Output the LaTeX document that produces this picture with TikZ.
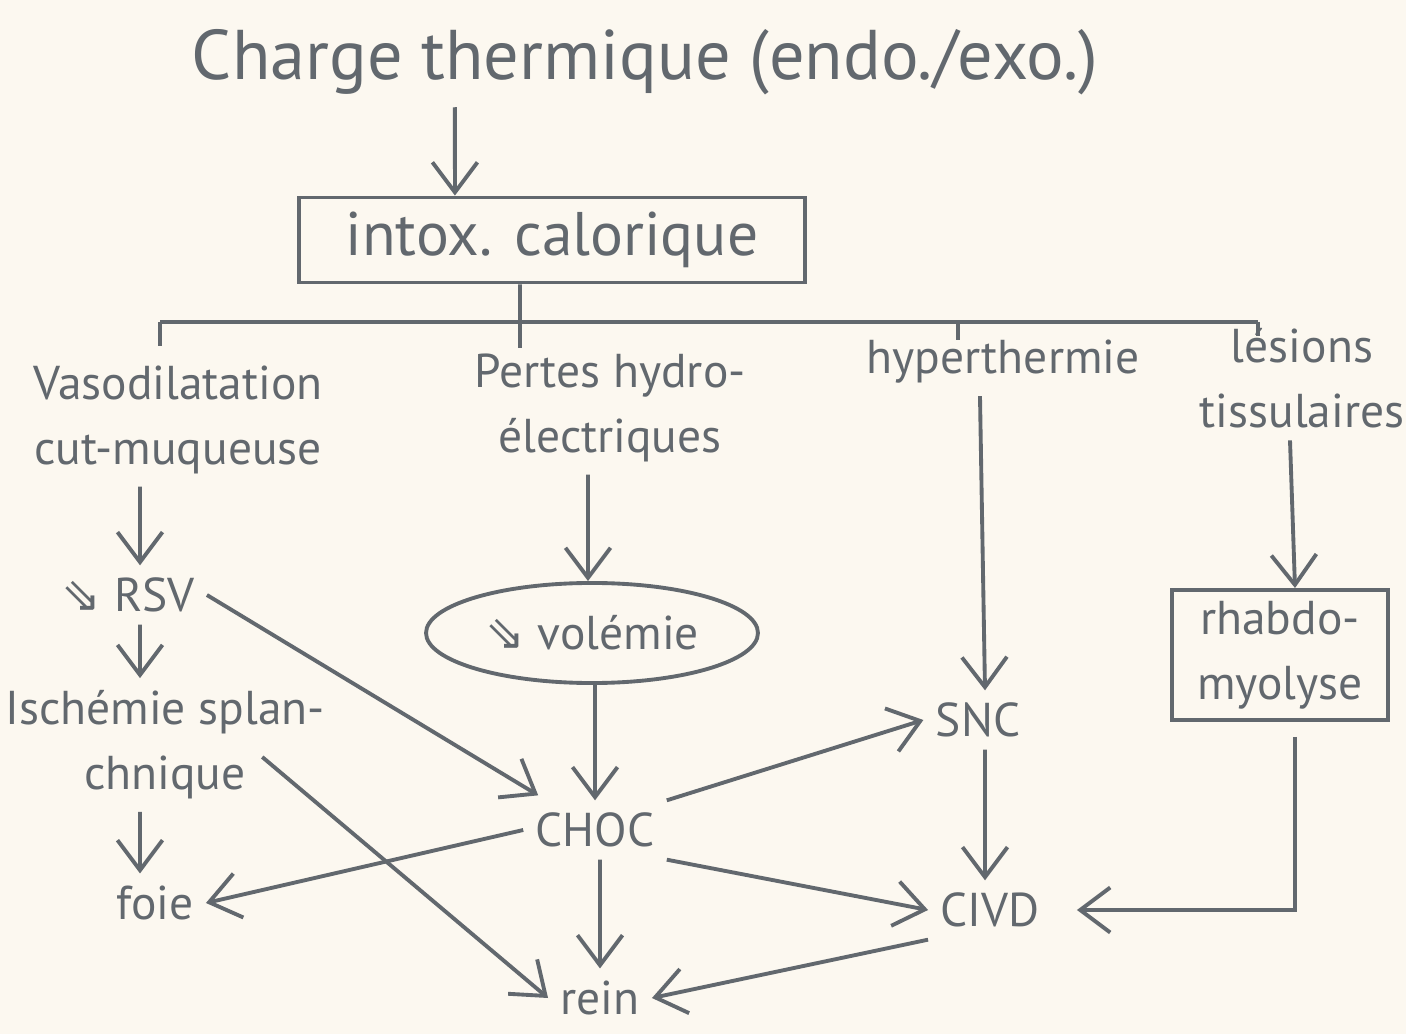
\documentclass[tikz,border=0pt]{standalone}
\usepackage{fontspec}
\setmainfont{PT Sans}
\newfontfamily\arrowfont{DejaVu Sans}
\usepackage{tikz}
\usetikzlibrary{arrows.meta,shapes.geometric}
\definecolor{ink}{RGB}{98,104,110}
\definecolor{paper}{RGB}{252,248,240}
\newcommand\baisse{{\arrowfont ⇘}}

\begin{document}
\begin{tikzpicture}[x=0.01cm, y=-0.01cm, color=ink, line width=1.1pt,
    txt/.style={align=center, inner sep=3pt, font=\fontsize{13.5}{18.5}\selectfont},
    arr/.style={-{Straight Barb[length=3mm,width=4.5mm,line width=1.1pt]}},
  ]
		%%%%% START %%%%%
		\fill[paper] (0,0) rectangle (1406,1034);
		\useasboundingbox (0,0) rectangle (1406,1034);
		
		\node[txt, font=\fontsize{20}{24}\selectfont] (charge) at (645,62) {Charge thermique (endo./exo.)};
		\node[txt, draw, minimum width=5.05cm, minimum height=0.85cm, font=\fontsize{17.5}{20}\selectfont] (intox) at (552,240) {intox. calorique};
		\draw[arr] ([xshift=-1.9cm]charge.south) -- ([xshift=-0.97cm]intox.north);
		
		% branches
		\coordinate (split) at (520,322);
		\coordinate (bl) at (160,322);
		\coordinate (br) at (1258,322);
		\coordinate (dvaso) at (160,346);
		\coordinate (dpertes) at (520,348);
		\coordinate (dhyper) at (958,340);
		\coordinate (dles) at (1258,336);
		\draw ([xshift=-0.32cm]intox.south) -- (split);
		\draw (bl) -- (br);
		\draw (bl) -- (dvaso);
		\draw (split) -- (dpertes);
		\draw (split -| dhyper) -- (dhyper);
		\draw (br) -- (dles);
		
		\node[txt] (vaso) at (178,420) {Vasodilatation\\cut-muqueuse};
		\node[txt] (pertes) at (610,408) {Pertes hydro-\\électriques};
		\node[txt] (hyper) at (1003,362) {hyperthermie};
		\node[txt] (lesions) at (1302,378) {lésions\\tissulaires};
		
		\node[txt] (rsv) at (128,595) {\baisse\ RSV};
		\node[txt, draw, ellipse, minimum width=2.8cm, minimum height=1cm] (volemie) at (592,633) {\baisse\ volémie};
		\node[txt] (ische) at (165,745) {Ischémie splan-\\chnique};
		\node[txt] (snc) at (978,720) {SNC};
		\node[txt, draw, minimum width=2.16cm, minimum height=1.3cm] (rhabdo) at (1280,655) {rhabdo-\\myolyse};
		
		\node[txt] (choc) at (595,830) {CHOC};
		\node[txt] (foie) at (155,903) {foie};
		\node[txt] (civd) at (990,910) {CIVD};
		\node[txt] (rein) at (600,998) {rein};
		
		% vertical arrows
		\draw[arr] ([xshift=-0.38cm]vaso.south) -- ([xshift=0.12cm]rsv.north);
		\draw[arr] ([xshift=0.12cm]rsv.south) -- ([xshift=-0.25cm]ische.north);
		\draw[arr] ([xshift=-0.25cm]ische.south) -- ([xshift=-0.15cm]foie.north);
		\draw[arr] ([xshift=-0.22cm]pertes.south) -- ([xshift=-0.04cm]volemie.north);
		\draw[arr] ([xshift=0.03cm]volemie.south) -- (choc.north);
		\draw[arr] ([xshift=0.05cm]choc.south) -- (rein.north);
		\draw[arr] ([xshift=-0.23cm]hyper.south) -- ([xshift=0.07cm]snc.north);
		\draw[arr] ([xshift=0.07cm]snc.south) -- ([xshift=-0.05cm]civd.north);
		\draw[arr] ([xshift=-0.12cm]lesions.south) -- ([xshift=0.15cm]rhabdo.north);
		
		% cross arrows
		\draw[arr] (rsv.east) -- ([shift={(15,-5)}]choc.north west);
		\draw[arr] ([shift={(-75,12)}]ische.east) -- (rein.west);
		\draw[arr] (choc.west) -- (foie.east);
		\draw[arr] (choc.north east) -- (snc.west);
		\draw[arr] (choc.south east) -- (civd.west);
		\draw[arr] (civd.south west) -- (rein.east);
		\draw[arr] ([shift={(15,15)}]rhabdo.south) |- ([xshift=0.25cm]civd.east);
		
		%%%%% END %%%%%
	\end{tikzpicture}
\end{document}
